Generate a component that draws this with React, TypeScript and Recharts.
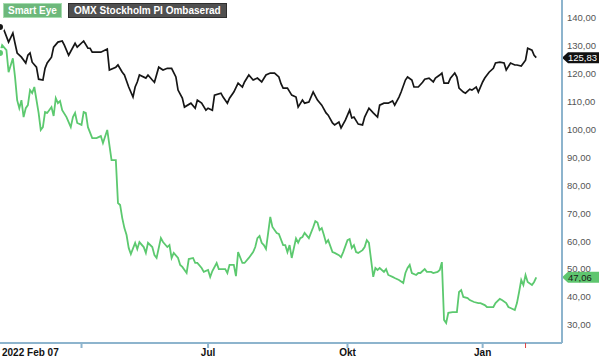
import React from 'react';
import { LineChart, Line, XAxis, YAxis, ReferenceLine } from 'recharts';

// trading-day index since 2022 Feb 07
const omxDays = [
  0, 1, 4, 6, 7, 8, 10, 12, 13, 14, 15, 17, 18, 20, 21, 22, 24, 25, 27, 29,
  30, 32, 35, 36, 39, 41, 42, 43, 47, 50, 51, 54, 55, 57, 58, 60, 62, 63, 64, 65,
  68, 69, 71, 72, 74, 76, 78, 80, 82, 83, 85, 86, 89, 91, 92, 94, 96, 97, 99, 100,
  103, 104, 106, 107, 109, 111, 113, 114, 116, 118, 120, 122, 124, 126, 128, 130, 131, 132, 134, 136,
  138, 139, 141, 142, 144, 146, 148, 150, 152, 153, 155, 156, 158, 159, 161, 163, 164, 165, 167, 169,
  170, 172, 174, 176, 177, 179, 181, 183, 184, 186, 187, 189, 190, 192, 193, 195, 197, 198, 200, 202,
  203, 205, 206, 207, 209, 210, 212, 213, 214, 216, 217, 219, 220, 222, 223, 225, 226, 228, 230, 231,
  233, 235, 236, 238, 240, 241, 243, 245, 246, 248, 249, 250,
];
const omxValues = [
  136.8, 137.5, 131.4, 134.6, 131.0, 127.5, 126.0, 123.9, 126.7, 127.5, 124.2, 122.4, 118.1, 117.8, 122.0, 123.9, 126.0, 129.6, 131.4, 131.8,
  130.3, 126.7, 131.0, 129.6, 131.8, 129.2, 129.2, 127.8, 127.8, 128.9, 121.4, 122.4, 123.2, 120.6, 119.6, 115.3, 111.7, 115.3, 117.1, 119.6,
  118.5, 119.6, 117.8, 117.0, 122.4, 121.4, 122.0, 122.0, 118.9, 114.2, 111.3, 108.1, 109.5, 107.7, 110.6, 109.5, 107.0, 107.7, 107.0, 112.4,
  113.1, 111.7, 109.5, 111.3, 113.5, 116.7, 115.3, 117.1, 119.6, 117.8, 118.5, 117.1, 119.6, 120.3, 120.3, 118.9, 116.5, 114.9, 114.9, 112.4,
  111.7, 108.1, 110.6, 109.5, 109.9, 113.5, 110.6, 108.8, 106.0, 105.2, 102.4, 101.7, 102.7, 100.6, 103.4, 107.0, 104.2, 104.5, 102.0, 101.7,
  104.5, 107.7, 106.0, 104.5, 108.8, 109.5, 109.5, 110.3, 108.8, 111.7, 113.5, 117.8, 118.9, 117.8, 115.3, 115.3, 117.0, 118.1, 118.5, 117.1,
  118.5, 119.6, 120.3, 116.7, 116.7, 118.5, 120.3, 118.9, 114.9, 113.5, 113.1, 114.5, 114.2, 115.3, 113.5, 117.1, 118.5, 120.6, 122.0, 123.9,
  124.2, 123.9, 121.4, 123.9, 123.2, 123.2, 122.8, 124.9, 129.2, 128.5, 126.7, 125.83,
];

const seDays = [
  0, 1, 3, 4, 6, 7, 8, 9, 10, 11, 12, 13, 14, 15, 16, 18, 19, 20, 21, 22,
  24, 25, 26, 27, 28, 29, 31, 33, 34, 35, 36, 38, 39, 40, 41, 43, 45, 47, 48, 50,
  52, 54, 55, 56, 57, 58, 59, 60, 61, 63, 64, 65, 67, 68, 69, 71, 72, 73, 75, 76,
  78, 79, 80, 81, 83, 84, 85, 87, 88, 90, 91, 92, 94, 95, 97, 98, 99, 101, 102, 105,
  106, 107, 109, 110, 111, 113, 114, 116, 118, 119, 120, 121, 122, 123, 124, 125, 126, 127, 129, 130,
  132, 133, 134, 135, 136, 138, 139, 140, 141, 142, 144, 146, 147, 148, 149, 150, 151, 152, 153, 155,
  156, 158, 159, 160, 162, 163, 164, 165, 166, 167, 169, 170, 171, 172, 174, 175, 176, 177, 179, 180,
  181, 183, 184, 186, 188, 189, 190, 191, 192, 194, 195, 196, 198, 199, 201, 202, 204, 205, 206, 207,
  208, 209, 211, 213, 214, 215, 216, 218, 219, 221, 223, 224, 226, 227, 230, 231, 233, 234, 236, 237,
  240, 241, 242, 243, 244, 245, 246, 248, 249, 250,
];
const seValues = [
  127.5, 130.3, 128.5, 120.6, 125.6, 118.9, 110.6, 107.7, 110.6, 104.5, 107.7, 108.8, 114.2, 113.1, 115.3, 106.0, 99.9, 100.9, 106.3, 106.0,
  108.1, 104.9, 111.3, 109.5, 110.3, 107.0, 104.5, 100.9, 104.5, 106.0, 102.4, 101.7, 106.3, 106.0, 100.9, 97.0, 97.0, 97.7, 95.2, 99.9,
  89.1, 89.1, 73.7, 73.0, 68.3, 64.7, 62.2, 57.6, 55.4, 59.4, 57.2, 59.7, 57.9, 55.8, 59.4, 57.9, 55.0, 54.0, 61.1, 59.7,
  57.9, 58.6, 54.0, 55.8, 54.0, 51.5, 50.8, 48.6, 53.6, 54.0, 52.2, 52.2, 50.4, 49.0, 49.7, 47.2, 49.3, 52.2, 50.0, 50.0,
  48.6, 51.5, 51.5, 47.5, 56.1, 52.2, 52.2, 54.0, 56.1, 57.9, 61.1, 61.9, 59.4, 58.6, 57.2, 62.9, 68.7, 65.1, 62.9, 62.6,
  58.6, 58.6, 56.1, 58.6, 54.0, 61.0, 59.5, 61.1, 61.5, 63.0, 61.1, 65.0, 67.2, 66.7, 64.0, 64.7, 62.2, 59.4, 60.4, 56.1,
  55.8, 55.0, 54.3, 56.1, 60.4, 60.8, 57.6, 58.6, 56.1, 55.8, 56.8, 57.9, 60.4, 59.4, 47.2, 50.4, 49.7, 50.4, 49.0, 50.0,
  47.9, 47.2, 46.8, 46.1, 45.0, 48.6, 50.4, 51.5, 48.6, 47.9, 48.6, 48.6, 50.0, 49.0, 49.0, 48.6, 49.0, 49.7, 52.5, 31.8,
  30.7, 34.3, 34.6, 34.6, 41.8, 42.5, 40.0, 39.6, 38.9, 38.2, 37.8, 37.8, 37.1, 36.4, 36.4, 37.8, 39.3, 38.9, 37.8, 36.4,
  35.3, 37.8, 41.8, 46.1, 44.3, 47.9, 45.4, 44.3, 45.4, 47.06,
];

const seriesNames = ['Smart Eye', 'OMX Stockholm PI Ombaserad'];
const yTicks = [30, 40, 50, 60, 70, 80, 90, 100, 110, 120, 130, 140];
const xTicks = [0, 38, 97, 162, 225, 245];
const xTickLabels = ['2022 Feb 07', '', 'Jul', 'Okt', 'Jan', ''];

const GREEN = '#5cc96f';
const BLACK = '#161616';
const FRAME = '#8db4cd';
const FONT = '"Liberation Sans", Arial, sans-serif';

const omxData = omxDays.map((d, i) => ({ day: d, value: omxValues[i] }));
const seData = seDays.map((d, i) => ({ day: d, value: seValues[i] }));

const fmt = (v: number) => v.toFixed(2).replace('.', ',');

const XTick = (props: any) => {
  const { x, y, payload } = props;
  const i = xTicks.indexOf(payload.value);
  const label = xTickLabels[i];
  const isLast = i === xTicks.length - 1;
  return (
    <g>
      {i > 0 && (
        <line x1={x} x2={x} y1={y} y2={y + 5} stroke={isLast ? '#e04040' : FRAME} strokeWidth={isLast ? 1 : 2} />
      )}
      {label && (
        <text
          x={i === 0 ? 2 : x}
          y={y + 13}
          textAnchor={i === 0 ? 'start' : 'middle'}
          fontSize={10}
          fontWeight="bold"
          fontFamily={FONT}
          fill="#111"
        >
          {label}
        </text>
      )}
    </g>
  );
};

// value badge pinned to the right edge of the plot
const badge = (value: number, bg: string, fg: string) => (props: any) => {
  const { viewBox } = props;
  const tip = viewBox.x + viewBox.width;
  const cy = viewBox.y;
  const h = 5.5;
  return (
    <g>
      <polygon
        points={`${tip},${cy} ${tip + 6},${cy - h} 599,${cy - h} 599,${cy + h} ${tip + 6},${cy + h}`}
        fill={bg}
      />
      <text x={tip + 6} y={cy + 3.5} fontSize={9.5} fontFamily={FONT} fill={fg}>
        {fmt(value)}
      </text>
    </g>
  );
};

export default function App() {
  const lastSe = seValues[seValues.length - 1];
  const lastOmx = omxValues[omxValues.length - 1];
  return (
    <div style={{ position: 'absolute', left: 0, top: 0, width: 600, height: 358, background: '#fff', fontFamily: FONT }}>
      <LineChart width={600} height={358} margin={{ top: 0, right: 0, left: 0, bottom: 0 }}>
        <XAxis
          dataKey="day"
          type="number"
          domain={[0, 262]}
          ticks={xTicks}
          interval={0}
          allowDataOverflow
          height={15}
          tickSize={0}
          tickMargin={0}
          tickLine={false}
          axisLine={{ stroke: FRAME, strokeWidth: 2 }}
          tick={<XTick />}
        />
        <YAxis
          orientation="right"
          type="number"
          domain={[23.5, 146.5]}
          ticks={yTicks}
          interval={0}
          allowDataOverflow
          width={38}
          tickSize={0}
          tickMargin={5}
          tickLine={false}
          axisLine={{ stroke: FRAME, strokeWidth: 2 }}
          tickFormatter={fmt}
          tick={{ fill: '#555', fontSize: 9.5, fontFamily: FONT, textAnchor: 'start' }}
        />
        <Line
          data={omxData}
          dataKey="value"
          name={seriesNames[1]}
          stroke={BLACK}
          strokeWidth={1.7}
          dot={false}
          isAnimationActive={false}
        />
        <Line
          data={seData}
          dataKey="value"
          name={seriesNames[0]}
          stroke={GREEN}
          strokeWidth={1.8}
          dot={false}
          isAnimationActive={false}
        />
        <ReferenceLine y={lastOmx} strokeOpacity={0} label={{ content: badge(lastOmx, '#111', '#fff') }} />
        <ReferenceLine y={lastSe} strokeOpacity={0} label={{ content: badge(lastSe, '#5fc66f', '#1a1a1a') }} />
      </LineChart>

      {/* legend boxes */}
      <div
        style={{
          position: 'absolute', left: 3, top: 3, height: 13, padding: '0 4px',
          background: '#6db87b', border: '1px solid #a5dcae', color: '#fff',
          fontSize: 10, fontWeight: 'bold', lineHeight: '13px', whiteSpace: 'nowrap',
        }}
      >
        {seriesNames[0]}
      </div>
      <div
        style={{
          position: 'absolute', left: 68, top: 3, height: 13, padding: '0 5px',
          background: '#505050', border: '1px solid #2e2e2e', color: '#fff',
          fontSize: 10, fontWeight: 'bold', lineHeight: '13px', whiteSpace: 'nowrap',
        }}
      >
        {seriesNames[1]}
      </div>
    </div>
  );
}
